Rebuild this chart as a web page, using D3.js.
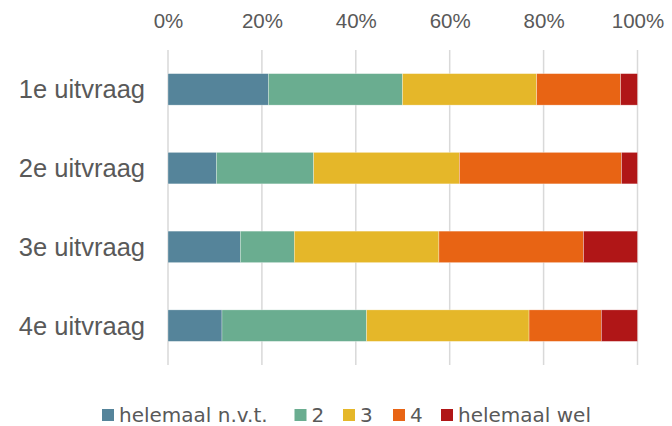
<!DOCTYPE html>
<html><head><meta charset="utf-8">
<script src="https://cdn.jsdelivr.net/npm/d3@7"></script>
<style>
html,body{margin:0;padding:0;background:#fff;}
svg{display:block;font-family:"DejaVu Sans",sans-serif;}
</style></head>
<body><svg id="c" width="672" height="426"></svg>
<script>
const categories = ["1e uitvraag","2e uitvraag","3e uitvraag","4e uitvraag"];
const seriesNames = ["helemaal n.v.t.","2","3","4","helemaal wel"];
const sNvt   = [21.4, 10.3, 15.4, 11.5];
const s2     = [28.6, 20.7, 11.5, 30.8];
const s3     = [28.6, 31.0, 30.8, 34.6];
const s4     = [17.9, 34.5, 30.8, 15.4];
const sWel   = [3.6, 3.4, 11.5, 7.7];
const tickValues = [0, 0.2, 0.4, 0.6, 0.8, 1.0];
const colors = ["#55849a","#6aad90","#e5b729","#e86414","#b01617"];

const seriesArrays = [sNvt, s2, s3, s4, sWel];
const table = categories.map((c,i)=>{
  const o = {cat:c};
  seriesNames.forEach((s,j)=>{ o[s] = seriesArrays[j][i]; });
  return o;
});

const svg = d3.select("#c");
const x = d3.scaleLinear().domain([0,1]).range([168,637.5]);
const y = d3.scaleBand().domain(categories).range([50,365]).paddingInner(0.6).paddingOuter(0.3);
const color = d3.scaleOrdinal().domain(seriesNames).range(colors);

const stack = d3.stack().keys(seriesNames).offset(d3.stackOffsetExpand);
const stacked = stack(table);

// gridlines
svg.append("g").selectAll("line").data(tickValues).join("line")
  .attr("x1",d=>x(d)).attr("x2",d=>x(d))
  .attr("y1",50).attr("y2",365)
  .attr("stroke","#d9d9d9").attr("stroke-width",1.5);

// top axis labels
const axis = svg.append("g").attr("transform","translate(0,28)")
  .call(d3.axisTop(x).tickValues(tickValues).tickSize(0).tickPadding(0).tickFormat(d3.format(".0%")));
axis.select(".domain").remove();
axis.selectAll("text").attr("fill","#595959").style("font-size","20.5px").attr("font-family",null).attr("dy","0");

// bars
svg.append("g").selectAll("g").data(stacked).join("g")
  .attr("fill",d=>color(d.key))
  .selectAll("rect").data(d=>d).join("rect")
  .attr("x",d=>x(d[0])).attr("width",d=>x(d[1])-x(d[0]))
  .attr("y",d=>y(d.data.cat)).attr("height",y.bandwidth())
  .attr("stroke","#ffffff").attr("stroke-width",0.6).attr("stroke-opacity",0.5);

// category labels
const yAxis = svg.append("g").attr("transform","translate(145,0)")
  .call(d3.axisLeft(y).tickSize(0).tickPadding(0));
yAxis.select(".domain").remove();
yAxis.selectAll("text").attr("fill","#595959").style("font-size","25.5px").attr("font-family",null).attr("dy","0.35em");

// legend
const legX = [102, 294.5, 343, 393, 441];
const leg = svg.append("g").selectAll("g").data(seriesNames).join("g")
  .attr("transform",(d,i)=>`translate(${legX[i]},409)`);
leg.append("rect").attr("width",12).attr("height",12).attr("fill",d=>color(d));
leg.append("text").attr("x",17).attr("y",6).attr("dy","0.36em")
  .attr("fill","#595959").style("font-size","20px").text(d=>d);
</script></body></html>
